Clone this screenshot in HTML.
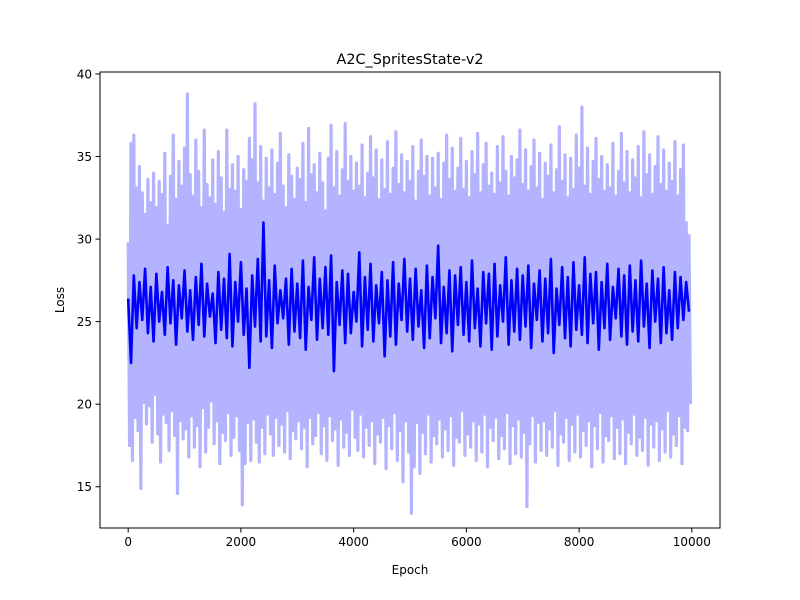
<!DOCTYPE html>
<html><head><meta charset="utf-8"><style>
html,body{margin:0;padding:0;background:#fff;}
svg{display:block;font-family:"DejaVu Sans","Liberation Sans",sans-serif;}
</style></head><body>
<svg id="chart" width="800" height="600" viewBox="0 0 800 600">
<rect x="0" y="0" width="800" height="600" fill="#fff"/>
<text x="410" y="64" text-anchor="middle" font-size="14.4">A2C_SpritesState-v2</text>
<g id="plot"></g>
<text x="410" y="574" text-anchor="middle" font-size="12">Epoch</text>
<text x="0" y="0" transform="translate(64,300) rotate(-90)" text-anchor="middle" font-size="12">Loss</text>
</svg>
<script>
const lightEpochStep = 25;
const lightValues = [
29.8,17.5,35.8,16.6,36.3,19.2,33.1,18.4,34.4,14.9,32.8,20.1,31.5,18.8,33.6,19.9,32.2,17.7,34.0,20.6,
31.9,18.2,33.5,16.5,32.7,19.4,35.2,18.9,30.8,17.2,33.8,19.6,36.3,18.1,32.4,14.6,34.7,19.0,33.2,17.9,
35.5,18.5,38.8,16.8,33.9,19.3,32.6,17.4,36.0,18.7,34.1,16.2,31.9,19.8,36.6,17.1,33.3,18.6,32.5,20.2,
34.8,17.6,32.1,19.0,35.3,16.4,33.7,18.3,31.6,17.8,36.6,19.5,33.0,16.9,34.5,18.0,32.9,19.3,35.0,17.2,
31.8,13.9,34.2,16.4,33.5,18.9,36.1,16.6,34.8,19.1,38.2,17.7,33.4,16.5,35.6,18.6,32.3,17.0,34.9,19.4,
33.1,18.2,35.4,16.9,32.7,19.2,34.6,17.5,36.4,18.8,33.2,17.1,31.9,19.6,35.1,16.7,33.8,18.4,32.4,17.9,
34.3,19.0,33.6,17.3,35.8,18.6,32.2,16.2,36.7,19.2,33.9,17.6,34.5,18.1,32.8,19.5,35.2,17.0,33.4,18.7,
31.7,16.6,34.9,19.3,36.9,17.8,33.1,18.5,35.3,16.3,32.6,19.1,34.2,17.4,37.0,18.3,33.5,16.9,35.0,19.7,
32.9,18.0,34.6,17.2,33.2,19.4,35.7,16.8,32.5,18.6,34.0,17.5,36.2,19.0,33.7,16.4,35.4,18.2,32.4,17.7,
34.8,19.2,33.0,16.1,35.9,18.7,32.7,17.3,34.3,19.5,36.5,16.6,33.3,18.4,35.1,15.3,32.8,19.0,34.7,17.1,
33.5,13.4,35.6,16.2,32.3,18.9,34.1,15.8,36.0,18.3,33.8,17.0,35.0,19.4,32.6,16.5,34.9,18.1,33.1,17.6,
35.2,19.1,32.4,16.8,34.6,18.5,36.3,17.2,33.6,19.3,35.5,16.3,32.9,18.0,34.3,17.7,36.1,19.6,33.0,16.9,
34.7,18.2,32.5,17.4,35.3,19.0,33.9,16.6,36.4,18.8,32.8,17.1,34.5,19.4,35.8,16.2,33.2,18.6,34.0,17.8,
32.7,19.2,35.6,16.7,33.4,18.1,36.2,17.3,34.1,19.5,32.6,16.4,35.0,18.7,33.7,17.0,34.8,19.1,36.6,16.8,
33.3,18.3,35.4,13.8,32.9,17.6,34.4,19.3,36.0,16.5,33.1,18.9,35.2,17.2,32.4,19.0,34.6,16.9,33.8,18.5,
35.7,17.4,32.8,19.6,34.2,16.3,36.8,18.2,33.5,17.7,35.1,19.2,32.5,16.6,34.9,18.8,33.0,17.1,36.3,19.4,
34.3,16.8,38.0,18.4,33.2,17.5,35.5,19.0,32.7,16.2,34.7,18.7,36.1,17.3,33.6,19.5,35.0,16.5,32.9,18.1,
34.5,17.8,33.1,19.3,35.8,16.7,32.6,18.6,34.1,17.0,36.4,19.1,33.4,16.4,35.3,18.3,32.8,17.6,34.8,19.4,
33.7,16.9,35.6,18.0,32.5,17.2,36.5,19.2,33.9,16.3,35.1,18.8,32.7,17.4,34.4,19.0,36.2,16.6,33.3,18.5,
35.4,17.1,32.9,19.6,34.6,16.8,33.5,18.2,35.9,17.5,32.6,19.3,34.2,16.4,35.7,18.6,31.0,18.4,30.2,20.0
];
const darkEpochStep = 50;
const darkValues = [
26.4,22.5,27.8,24.6,27.4,25.1,28.2,24.3,27.1,23.8,27.9,25.0,26.8,24.2,28.3,24.9,27.5,23.6,27.2,25.2,
28.1,24.4,26.9,23.9,27.7,24.8,28.5,24.1,27.3,25.3,26.7,23.7,28.0,24.5,27.6,24.0,29.1,23.5,27.4,25.0,
28.6,24.2,27.0,22.2,27.8,24.7,28.8,23.8,31.0,24.1,27.5,23.4,28.4,24.9,26.9,25.2,27.6,23.6,28.2,24.4,
27.3,24.0,28.7,23.3,27.1,25.1,28.9,23.9,27.6,24.6,28.3,24.2,29.0,22.0,27.4,24.8,28.1,23.7,27.9,24.3,
26.8,25.0,29.2,23.5,27.7,24.5,28.5,23.8,27.2,24.9,28.0,22.9,27.5,24.1,28.6,23.6,27.3,25.1,28.8,24.4,
27.6,23.9,28.2,24.7,26.9,23.4,28.4,24.0,27.7,25.2,29.6,23.7,27.1,24.3,28.1,23.2,27.8,24.8,28.3,24.2,
27.4,23.8,28.7,24.6,27.0,23.5,28.0,24.9,27.9,23.3,28.5,24.1,27.2,25.0,28.9,23.6,27.5,24.4,28.2,23.9,
27.8,24.7,28.4,23.4,27.3,25.1,28.1,23.8,27.6,24.3,28.8,23.1,27.0,24.8,28.3,24.0,27.7,23.5,28.6,24.5,
27.2,24.2,28.9,23.7,27.9,24.9,28.0,23.3,27.4,24.6,28.5,23.9,27.1,25.2,28.2,24.1,27.8,23.6,28.4,24.4,
27.5,23.8,28.7,24.7,27.3,23.4,28.1,25.0,27.6,23.7,28.3,24.3,26.9,23.9,28.0,24.6,27.7,25.1,27.4,25.6
];
const xTicks = [0,2000,4000,6000,8000,10000];
const yTicks = [15,20,25,30,35,40];

const L=100,R=720,T=72,B=528;
const xMin=-500,xMax=10500,yMin=12.5,yMax=40.12;
const xs=v=>L+(v-xMin)/(xMax-xMin)*(R-L);
const ys=v=>B-(v-yMin)/(yMax-yMin)*(B-T);
const NS='http://www.w3.org/2000/svg';
const svg=document.getElementById('chart');
const plot=document.getElementById('plot');
function mk(tag,attrs,parent){const e=document.createElementNS(NS,tag);for(const k in attrs)e.setAttribute(k,attrs[k]);(parent||svg).appendChild(e);return e;}

const cp=mk('clipPath',{id:'clip'},svg);mk('rect',{x:L,y:T,width:R-L,height:B-T},cp);
const g=mk('g',{'clip-path':'url(#clip)'},plot);
const pl=lightValues.map((v,i)=>xs(i*lightEpochStep).toFixed(2)+','+ys(v).toFixed(2)).join(' ');
const lp=mk('polyline',{points:pl,fill:'none',stroke:'#b3b3ff','stroke-width':3.2,'stroke-linejoin':'round'},g);


const pd=darkValues.map((v,i)=>xs(i*darkEpochStep).toFixed(2)+','+ys(v).toFixed(2)).join(' ');
const dp=mk('polyline',{points:pd,fill:'none',stroke:'#0000ff','stroke-width':2.6,'stroke-linejoin':'round'},g);



const frame=mk('rect',{x:L,y:T,width:R-L,height:B-T,fill:'none',stroke:'#000','stroke-width':1},plot);



xTicks.forEach(t=>{
  const x=xs(t);
  const tk=mk('line',{x1:x,x2:x,y1:B,y2:B+4.5,stroke:'#000','stroke-width':1},plot);
  
  
  const tx=mk('text',{x:x,y:B+18,'text-anchor':'middle','font-size':12},plot);
  tx.textContent=t;
  
  
});
yTicks.forEach(t=>{
  const y=ys(t);
  const tk=mk('line',{x1:L-4.5,x2:L,y1:y,y2:y,stroke:'#000','stroke-width':1},plot);
  
  
  const tx=mk('text',{x:L-8,y:y+4.3,'text-anchor':'end','font-size':12},plot);
  tx.textContent=t;
  
  
});
</script>
</body></html>
